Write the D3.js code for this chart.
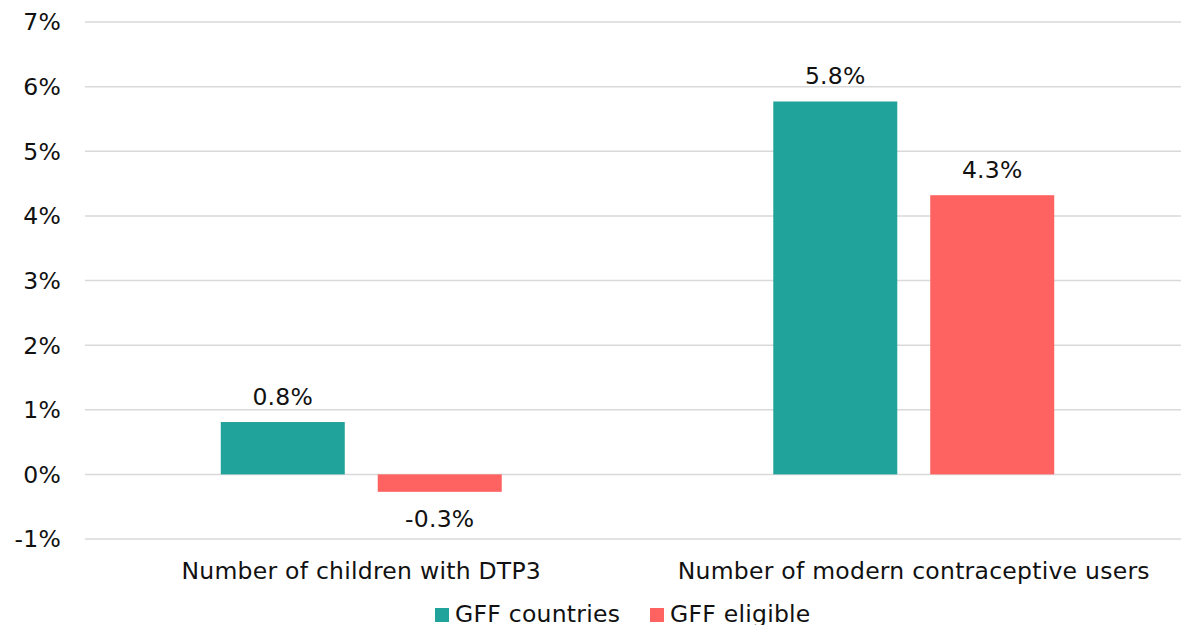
<!DOCTYPE html>
<html>
<head>
<meta charset="utf-8">
<script src="https://cdn.jsdelivr.net/npm/d3@7"></script>
<style>
  html, body { margin: 0; padding: 0; background: #fff; }
  svg { display: block; }
  text { font-family: "DejaVu Sans", Verdana, sans-serif; fill: #111; letter-spacing: 0.25px; }
</style>
</head>
<body>
<svg id="chart" width="1181" height="625"></svg>
<script>
// Categories, series and values (percent change)
const categories = ["Number of children with DTP3", "Number of modern contraceptive users"];
const seriesNames = ["GFF countries", "GFF eligible"];
const gffCountries = [0.81, 5.77];
const gffEligible = [-0.27, 4.32];
const seriesColors = ["#20A39B", "#FF6361"];
const yTicks = [-1, 0, 1, 2, 3, 4, 5, 6, 7];

const seriesValues = [gffCountries, gffEligible];
const rows = categories.map((c, i) => ({
  category: c,
  values: seriesNames.map((s, j) => ({ series: s, value: seriesValues[j][i], color: seriesColors[j] }))
}));

const svg = d3.select("#chart");
const plotLeft = 85, plotRight = 1190, plotTop = 22, plotBottom = 539;
const fontSize = 23.5;

// Plain hyphen for negative numbers
const fmt = d3.formatLocale({ decimal: ".", thousands: ",", grouping: [3], currency: ["", ""], minus: "-" });
const pct1 = v => fmt.format(".1f")(v) + "%";
const pct0 = v => fmt.format("d")(v) + "%";

const x0 = d3.scaleBand().domain(categories).range([plotLeft, plotRight]).paddingInner(0).paddingOuter(0);
const x1 = d3.scaleBand().domain(seriesNames).range([0, x0.bandwidth()]).paddingInner(0.21).paddingOuter(0.865);
const y = d3.scaleLinear().domain([-1, 7]).range([plotBottom, plotTop]);

// Horizontal gridlines
svg.append("g")
  .selectAll("line")
  .data(yTicks)
  .join("line")
  .attr("x1", plotLeft).attr("x2", plotRight)
  .attr("y1", d => y(d)).attr("y2", d => y(d))
  .attr("stroke", "#d9d9d9")
  .attr("stroke-width", 1.5);

// Y axis tick labels
svg.append("g")
  .selectAll("text")
  .data(yTicks)
  .join("text")
  .attr("x", 61)
  .attr("y", d => y(d))
  .attr("dy", "0.36em")
  .attr("text-anchor", "end")
  .attr("font-size", fontSize)
  .text(pct0);

// Bars
const groups = svg.append("g")
  .selectAll("g")
  .data(rows)
  .join("g")
  .attr("transform", d => `translate(${x0(d.category)},0)`);

groups.selectAll("rect")
  .data(d => d.values)
  .join("rect")
  .attr("x", d => x1(d.series))
  .attr("width", x1.bandwidth())
  .attr("y", d => y(Math.max(0, d.value)))
  .attr("height", d => Math.abs(y(d.value) - y(0)))
  .attr("fill", d => d.color);

// Value labels
groups.selectAll("text")
  .data(d => d.values)
  .join("text")
  .attr("x", d => x1(d.series) + x1.bandwidth() / 2)
  .attr("y", d => d.value >= 0 ? y(d.value) - 17.5 : y(d.value) + 35)
  .attr("text-anchor", "middle")
  .attr("font-size", fontSize)
  .text(d => pct1(d.value));

// Category labels
svg.append("g")
  .selectAll("text")
  .data(categories)
  .join("text")
  .attr("x", d => x0(d) + x0.bandwidth() / 2)
  .attr("y", 579)
  .attr("text-anchor", "middle")
  .attr("font-size", fontSize)
  .text(d => d);

// Legend
const legendX = [435, 650];
const legend = svg.append("g")
  .selectAll("g")
  .data(seriesNames)
  .join("g")
  .attr("transform", (d, i) => `translate(${legendX[i]},0)`);
legend.append("rect")
  .attr("x", 0).attr("y", 608)
  .attr("width", 14).attr("height", 14)
  .attr("fill", (d, i) => seriesColors[i]);
legend.append("text")
  .attr("x", 20).attr("y", 621.5)
  .attr("font-size", fontSize)
  .text(d => d);
</script>
</body>
</html>
